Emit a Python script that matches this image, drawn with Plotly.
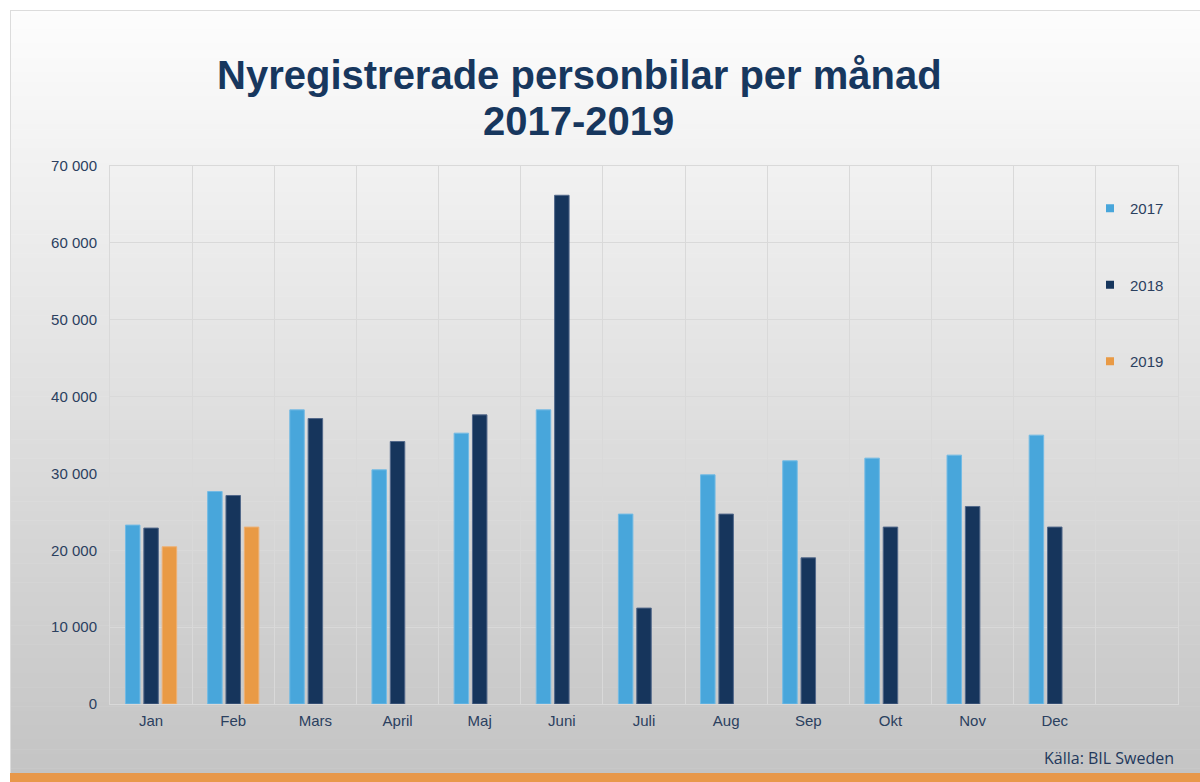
import plotly.graph_objects as go

months = ["Jan", "Feb", "Mars", "April", "Maj", "Juni", "Juli", "Aug", "Sep", "Okt", "Nov", "Dec"]
v2017 = [23280, 27650, 38270, 30470, 35240, 38270, 24710, 29820, 31640, 31990, 32380, 34980]
v2018 = [22890, 27130, 37140, 34150, 37620, 66190, 12480, 24710, 19020, 23020, 25700, 23020]
v2019 = [20460, 23020, None, None, None, None, None, None, None, None, None, None]
series_names = ["2017", "2018", "2019"]
colors = ["#48A6DB", "#16355C", "#E99A45"]
edge_colors = ["#74BBE4", "#52688A", "#EEB074"]
yticks = [0, 10000, 20000, 30000, 40000, 50000, 60000, 70000]

W, H = 1200, 782
L, R, T, B = 110, 22, 166, 78
pw, ph = W - L - R, H - T - B

def px_x(x):
    return (x - L) / pw

def px_y(y):
    return (H - B - y) / ph

text_col = "#2B405F"
grid_col = "#D9D9D9"

fig = go.Figure()
for name, vals, c, ec in zip(series_names, [v2017, v2018, v2019], colors, edge_colors):
    fig.add_trace(go.Bar(x=months, y=vals, name=name, marker=dict(color=c, line=dict(color=ec, width=1)),
                         showlegend=False))
    fig.add_trace(go.Scatter(x=[None], y=[None], mode="markers", name=name, legendgroup=name,
                             marker=dict(symbol="square", size=8, color=c)))

# background gradient
shapes = []
N = 160
y_top, y_bot = 10, 773
c_top, c_bot = 253, 196
for i in range(N):
    y0 = y_top + (y_bot - y_top) * i / N
    y1 = y_top + (y_bot - y_top) * (i + 1) / N + 0.6
    g = round(c_top + (c_bot - c_top) * (i + 0.5) / N)
    shapes.append(dict(type="rect", xref="paper", yref="paper", layer="below",
                       x0=px_x(10), x1=px_x(W + 2), y0=px_y(y0), y1=px_y(y1),
                       line=dict(width=0), fillcolor=f"rgb({g},{g},{g})"))
# slide border
shapes.append(dict(type="line", xref="paper", yref="paper", layer="below",
                   x0=px_x(10.5), x1=px_x(10.5), y0=px_y(10), y1=px_y(782), line=dict(color="#DCDCDC", width=1)))
shapes.append(dict(type="line", xref="paper", yref="paper", layer="below",
                   x0=px_x(10), x1=px_x(W), y0=px_y(10.5), y1=px_y(10.5), line=dict(color="#DCDCDC", width=1)))
# orange footer strip
shapes.append(dict(type="rect", xref="paper", yref="paper", layer="above",
                   x0=px_x(10), x1=px_x(W + 2), y0=px_y(773), y1=px_y(784),
                   line=dict(width=0), fillcolor="#E8984A"))

annotations = [
    dict(text="<b>Nyregistrerade personbilar per månad</b>", xref="paper", yref="paper",
         x=px_x(579), y=px_y(75), xanchor="center", yanchor="middle", showarrow=False,
         font=dict(family="Liberation Sans, Arial", size=40, color="#17375E")),
    dict(text="<b>2017-2019</b>", xref="paper", yref="paper",
         x=px_x(578), y=px_y(121), xanchor="center", yanchor="middle", showarrow=False,
         font=dict(family="Liberation Sans, Arial", size=40, color="#17375E")),
    dict(text="Källa: BIL Sweden", xref="paper", yref="paper",
         x=px_x(1176), y=px_y(758), xanchor="right", yanchor="middle", showarrow=False,
         font=dict(family="Open Sans, Liberation Sans", size=16, color="#22385C")),
]

fig.update_layout(
    width=W, height=H,
    margin=dict(l=L, r=R, t=T, b=B, pad=0),
    paper_bgcolor="white", plot_bgcolor="rgba(0,0,0,0)",
    barmode="group", bargap=0.33, bargroupgap=0.21,
    separators=", ",
    font=dict(family="Liberation Sans, Arial", size=15, color=text_col),
    shapes=shapes, annotations=annotations,
    legend=dict(x=px_x(1090), y=px_y(192), xanchor="left", yanchor="top",
                bgcolor="rgba(0,0,0,0)", tracegroupgap=54,
                font=dict(size=15, color=text_col), itemwidth=30),
    xaxis=dict(type="category", categoryorder="array", categoryarray=months,
               range=[-0.5, 12.5], tickson="boundaries", showgrid=True, gridcolor=grid_col,
               gridwidth=1, ticks="", showline=True, linecolor=grid_col, mirror=True,
               tickfont=dict(size=15, color=text_col), ticklabelstandoff=3, zeroline=False),
    yaxis=dict(range=[0, 70000], tickvals=yticks, tickformat=",d", showgrid=True,
               gridcolor=grid_col, gridwidth=1, zeroline=False, showline=True,
               linecolor=grid_col, mirror=True, ticks="",
               tickfont=dict(size=15, color=text_col), ticklabelstandoff=9),
)

fig.write_html("out.html", config={"displayModeBar": False},
               post_script="document.body.style.margin='0';document.body.style.overflow='hidden';")
